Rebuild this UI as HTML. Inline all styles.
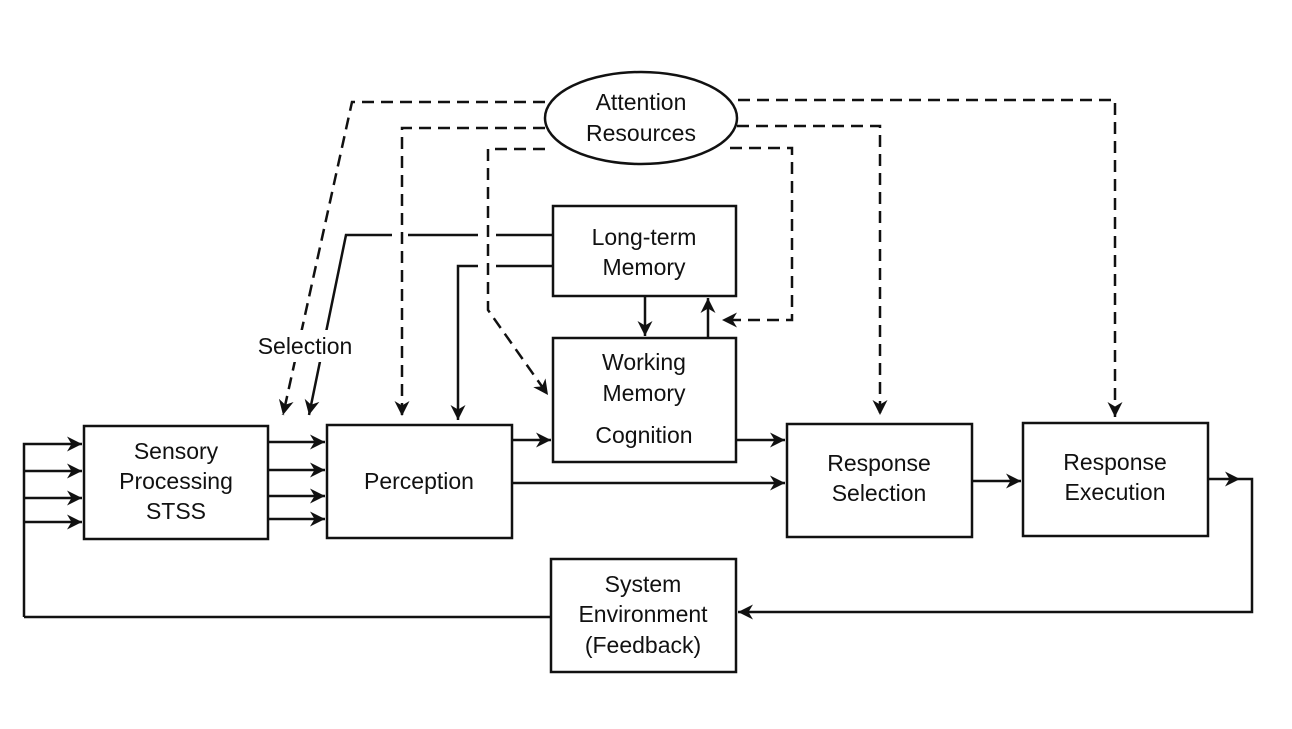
<!DOCTYPE html>
<html><head><style>html,body{margin:0;padding:0;background:#fff}svg{display:block}</style></head>
<body>
<svg width="1292" height="729" viewBox="0 0 1292 729" xmlns="http://www.w3.org/2000/svg" font-family="Liberation Sans, sans-serif" font-size="23" fill="none" stroke="#111">
<defs>
<marker id="a" viewBox="0 0 10 10" refX="10" refY="5" markerWidth="20" markerHeight="15" markerUnits="userSpaceOnUse" orient="auto"><path d="M0,0 L10,5 L0,10 L3,5 z" fill="#111" stroke="none"/></marker>
</defs>
<g stroke-width="2.5">
<rect x="84" y="426" width="184" height="113"/>
<rect x="327" y="425" width="185" height="113"/>
<rect x="553" y="206" width="183" height="90"/>
<rect x="553" y="338" width="183" height="124"/>
<rect x="787" y="424" width="185" height="113"/>
<rect x="1023" y="423" width="185" height="113"/>
<rect x="551" y="559" width="185" height="113"/>
<ellipse cx="641" cy="118" rx="96" ry="46"/>
</g>
<g stroke-width="2.5" marker-end="url(#a)">
<path d="M24,617 V444 H82"/>
<path d="M24,471 H82"/><path d="M24,498 H82"/><path d="M24,522 H82"/>
<path d="M268,442 H325"/><path d="M268,470 H325"/><path d="M268,496 H325"/><path d="M268,519 H325"/>
<path d="M553,235 H346 L309,415"/>
<path d="M553,266 H458 V420"/>
<path d="M645,296 V336"/>
<path d="M708,338 V298"/>
<path d="M512,440 H551"/>
<path d="M736,440 H785"/>
<path d="M512,483 H785"/>
<path d="M972,481 H1021"/>
<path d="M1208,479 H1240"/>
<path d="M1240,479 H1252 V612 H738"/>
<path d="M551,617 H24" marker-end="none"/>
</g>
<rect x="392" y="228" width="16" height="14" fill="#fff" stroke="none"/>
<rect x="478" y="228" width="18" height="14" fill="#fff" stroke="none"/>
<rect x="478" y="259" width="18" height="14" fill="#fff" stroke="none"/>
<rect x="250" y="330" width="112" height="32" fill="#fff" stroke="none"/>
<g stroke-width="2.5" stroke-dasharray="12,7" marker-end="url(#a)">
<path d="M545,102 H352 L283,415"/>
<path d="M545,128 H402 V416"/>
<path d="M545,149 H488 V310 L548,395"/>
<path d="M738,100 H1115 V417"/>
<path d="M737,126 H880 V415"/>
<path d="M730,148 H792 V320 H722"/>
</g>
<rect x="250" y="330" width="112" height="32" fill="#fff" stroke="none"/>
<g fill="#111" stroke="none" text-anchor="middle">
<text x="641" y="110">Attention</text><text x="641" y="141">Resources</text>
<text x="176" y="459">Sensory</text><text x="176" y="489">Processing</text><text x="176" y="519">STSS</text>
<text x="419" y="489">Perception</text>
<text x="644" y="245">Long-term</text><text x="644" y="275">Memory</text>
<text x="644" y="370">Working</text><text x="644" y="401">Memory</text><text x="644" y="443">Cognition</text>
<text x="879" y="471">Response</text><text x="879" y="501">Selection</text>
<text x="1115" y="470">Response</text><text x="1115" y="500">Execution</text>
<text x="643" y="592">System</text><text x="643" y="622">Environment</text><text x="643" y="653">(Feedback)</text>
<text x="305" y="354">Selection</text>
</g>
</svg>
</body></html>
